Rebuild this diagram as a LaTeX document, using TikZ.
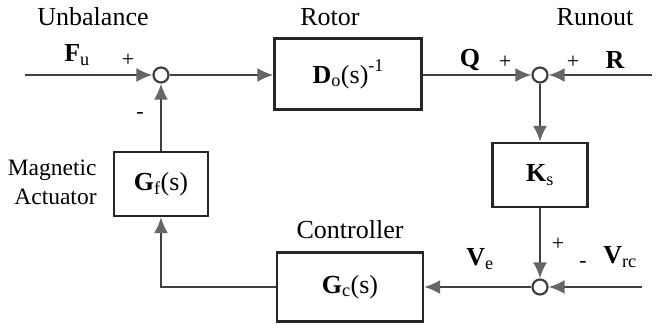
\documentclass[tikz,border=0pt]{standalone}
\usepackage{fontspec}
\setmainfont{Liberation Serif}
\usetikzlibrary{arrows.meta}

\newcommand{\var}[2]{\textbf{#1}\textsubscript{#2}}

\begin{document}
\begin{tikzpicture}[x=1pt, y=-1pt, line width=2.2pt,
    font=\fontsize{26}{28}\selectfont,
    block/.style={draw=black!85, inner sep=0pt},
    sumpt/.style={circle, draw=black!75, fill=white, minimum size=15pt, inner sep=0pt},
    wire/.style={draw=black!75, -{Latex[length=16pt, width=14pt, color=black!60]}},
    sign/.style={font=\fontsize{22}{24}\selectfont}]

  \useasboundingbox (0,0) rectangle (660,328);

  % Summing junctions
  \node[sumpt] (sumf) at (161,75) {};
  \node[sumpt] (sumq) at (540,75) {};
  \node[sumpt] (sume) at (540,287) {};

  % Blocks
  \node[block, minimum width=147pt, minimum height=71pt] (rotor) at (348,74)
    {\textbf{D}\textsubscript{o}(s)\raisebox{12pt}{\fontsize{18}{20}\selectfont -1}};
  \node[block, minimum width=95pt, minimum height=64pt] (ks) at (540,175) {\var{K}{s}};
  \node[block, minimum width=146pt, minimum height=69pt] (gc) at (350,287) {\var{G}{c}(s)};
  \node[block, minimum width=94pt, minimum height=64pt] (gf) at (161,184) {\var{G}{f}(s)};

  % Free ends of the inputs
  \coordinate (fuin) at (25,75);
  \coordinate (rin) at (652,75);
  \coordinate (vrcin) at (642,287);

  % Forward path
  \draw[wire] (fuin) -- (sumf.west);
  \draw[wire] (sumf.east) -- (rotor.west |- sumf);
  \draw[wire] (rotor.east |- sumq) -- (sumq.west);
  \draw[wire] (rin) -- (sumq.east);
  \draw[wire] (sumq.south) -- (ks.north);
  \draw[wire] (ks.south) -- (sume.north);
  \draw[wire] (vrcin) -- (sume.east);

  % Feedback path
  \draw[wire] (sume.west) -- (gc.east);
  \draw[wire] (gc.west) -| (gf.south);
  \draw[wire] (gf.north) -- (sumf.south);

  % Labels
  \node (unb) at (93,17) {Unbalance};
  \node (fu) at (77,55) {\var{F}{u}};
  \node[sign] (fuplus) at (128,60) {+};
  \node[sign] (gfminus) at (140,116) {-};
  \node (rotorlbl) at (330,17) {Rotor};
  \node (q) at (470,60) {\textbf{Q}};
  \node[sign] (qplus) at (505,62) {+};
  \node[sign] (rplus) at (573,62) {+};
  \node (r) at (615,60) {\textbf{R}};
  \node (runout) at (595,17) {Runout};
  \node[align=right, anchor=east, font=\fontsize{23.5}{29}\selectfont] (actlbl) at (101,182)
    {Magnetic\\Actuator};
  \node (ctrl) at (350,230) {Controller};
  \node (ve) at (480,259) {\var{V}{e}};
  \node[sign] (ksplus) at (558,244) {+};
  \node[sign] (vrcminus) at (583,264) {-};
  \node (vrc) at (620,257) {\var{V}{rc}};

\end{tikzpicture}
\end{document}
